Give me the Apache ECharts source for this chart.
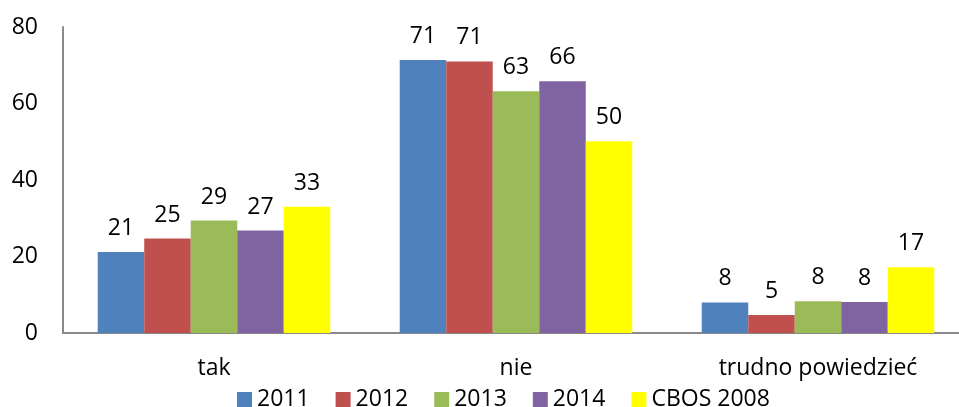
<!DOCTYPE html>
<html>
<head>
<meta charset="utf-8">
<script src="https://cdn.jsdelivr.net/npm/echarts@6/dist/echarts.min.js"></script>
<style>
  html, body { margin: 0; padding: 0; background: #fff; }
  #chart { width: 959px; height: 407px; }
</style>
</head>
<body>
<div id="chart"></div>
<script>
// kategorie odpowiedzi
const categories = ['tak', 'nie', 'trudno powiedzieć'];

// serie (wysokość słupka) i podpisy
const seriesNames = ['2011', '2012', '2013', '2014', 'CBOS 2008'];
const values2011 = [21.2, 71.4, 8.0];
const values2012 = [24.7, 71.0, 4.7];
const values2013 = [29.4, 63.2, 8.3];
const values2014 = [26.8, 65.8, 8.1];
const valuesCbos = [33.0, 50.1, 17.2];
const labels2011 = ['21', '71', '8'];
const labels2012 = ['25', '71', '5'];
const labels2013 = ['29', '63', '8'];
const labels2014 = ['27', '66', '8'];
const labelsCbos = ['33', '50', '17'];

const yTicks = [0, 20, 40, 60, 80];

const colors = ['#4F81BD', '#C0504D', '#9BBB59', '#8064A2', '#FFFF00'];
const FONT = 'Open Sans';
const FS = 23;

const allValues = [values2011, values2012, values2013, values2014, valuesCbos];
const allLabels = [labels2011, labels2012, labels2013, labels2014, labelsCbos];

const chart = echarts.init(document.getElementById('chart'));

const series = seriesNames.map((name, i) => ({
    name: name,
    type: 'bar',
    data: allValues[i],
    barGap: '0%',
    barCategoryGap: '23%',
    itemStyle: { color: colors[i] },
    label: {
        show: true,
        position: 'top',
        distance: 12,
        color: '#000',
        fontFamily: FONT,
        fontSize: FS,
        formatter: p => allLabels[i][p.dataIndex]
    }
}));

chart.setOption({
    animation: false,
    textStyle: { fontFamily: FONT },
    grid: {
        left: 63,
        top: 27,
        width: 906,
        height: 306,
        containLabel: false,
        outerBoundsMode: 'none'
    },
    legend: {
        data: seriesNames,
        top: 383,
        left: 232,
        icon: 'rect',
        itemWidth: 15,
        itemHeight: 15,
        itemGap: 26,
        textStyle: { fontFamily: FONT, fontSize: FS, color: '#000' }
    },
    xAxis: {
        type: 'category',
        data: categories,
        axisLine: { show: true, lineStyle: { color: '#898989', width: 2 } },
        axisTick: { show: false },
        axisLabel: { color: '#000', fontFamily: FONT, fontSize: FS, margin: 24 }
    },
    yAxis: {
        type: 'value',
        min: yTicks[0],
        max: yTicks[yTicks.length - 1],
        interval: 20,
        axisLine: { show: true, lineStyle: { color: '#898989', width: 2 } },
        axisTick: { show: false },
        splitLine: { show: false },
        axisLabel: { color: '#000', fontFamily: FONT, fontSize: FS, margin: 25 }
    },
    series: series
});
</script>
</body>
</html>
